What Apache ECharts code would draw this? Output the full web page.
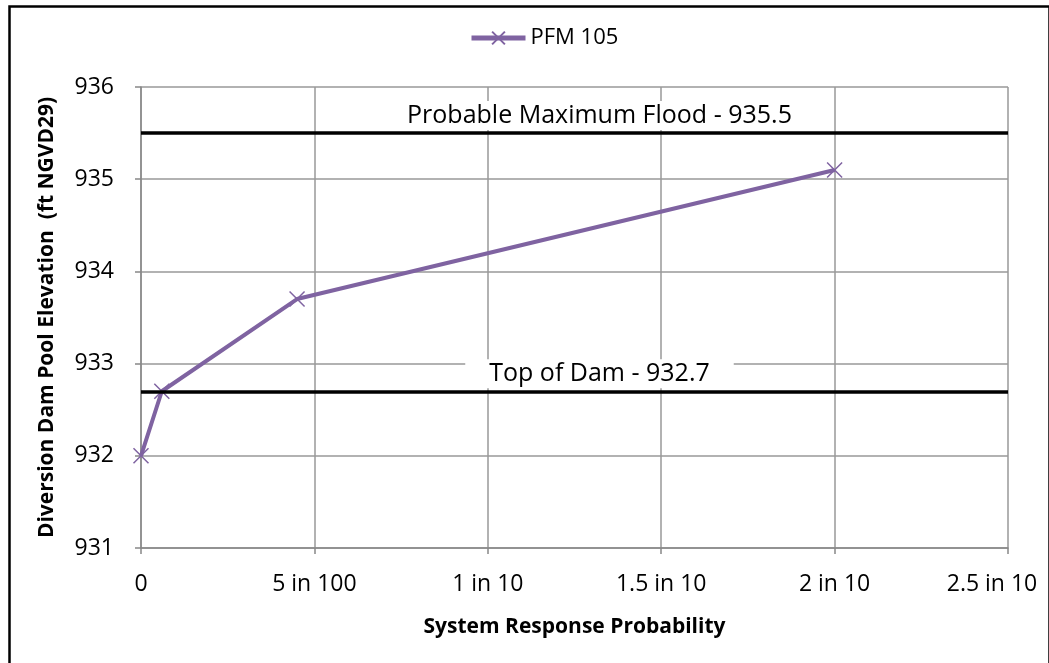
<!DOCTYPE html>
<html>
<head>
<meta charset="utf-8">
<script src="https://cdn.jsdelivr.net/npm/echarts@6/dist/echarts.min.js"></script>
<style>html,body{margin:0;padding:0;background:#fff}#c{width:1049px;height:663px}</style>
</head>
<body>
<div id="c"></div>
<script>
const seriesName = 'PFM 105';
const xValues = [0, 0.006, 0.045, 0.2];
const yValues = [932, 932.7, 933.7, 935.1];
const xTickValues = [0, 0.05, 0.1, 0.15, 0.2, 0.25];
const xTickLabels = ['0', '5 in 100', '1 in 10', '1.5 in 10', '2 in 10', '2.5 in 10'];
const refLevels = [935.5, 932.7];
const refLabels = ['Probable Maximum Flood - 935.5', 'Top of Dam - 932.7'];

const purple = '#7F63A1';
const font = 'Open Sans';
const xSym = 'path://M0,0 L10,10 M10,0 L0,10';

const chart = echarts.init(document.getElementById('c'), null, {renderer: 'canvas'});
chart.setOption({
  backgroundColor: '#fff',
  animation: false,
  textStyle: {fontFamily: font},
  graphic: [{
    type: 'rect', left: 7, top: 4, z: 100, silent: true,
    shape: {x: 0, y: 0, width: 1040, height: 700},
    style: {fill: 'none', stroke: '#000', lineWidth: 2.5}
  }],
  legend: {
    top: 22, left: 464,
    itemWidth: 54, itemHeight: 16, itemGap: 6,
    textStyle: {fontSize: 22, color: '#000', fontFamily: font},
    data: [{name: seriesName, lineStyle: {width: 5, color: purple}}]
  },
  grid: {left: 141, top: 87, right: 41, bottom: 115, containLabel: false},
  xAxis: {
    type: 'value', min: 0, max: 0.25, interval: 0.05,
    name: 'System Response Probability', nameLocation: 'middle', nameGap: 69,
    nameTextStyle: {fontSize: 21, fontWeight: 'bold', color: '#000', fontFamily: font},
    axisLine: {show: true, lineStyle: {color: '#888', width: 1.5}},
    axisTick: {show: true, length: 6, lineStyle: {color: '#888', width: 1.5}},
    axisLabel: {fontSize: 23, color: '#000', margin: 25,
      formatter: v => {
        const i = xTickValues.findIndex(t => Math.abs(t - v) < 1e-9);
        if (i < 0) return '';
        return i === xTickLabels.length - 1 ? '{last|' + xTickLabels[i] + '}' : xTickLabels[i];
      },
      rich: {last: {fontSize: 23, color: '#000', fontFamily: font, padding: [0, 32, 0, 0]}}
    },
    splitLine: {show: true, lineStyle: {color: '#999', width: 1.5}}
  },
  yAxis: {
    type: 'value', min: 931, max: 936, interval: 1,
    name: 'Diversion Dam Pool Elevation  (ft NGVD29)', nameLocation: 'middle', nameGap: 83,
    nameTextStyle: {fontSize: 21, fontWeight: 'bold', color: '#000', fontFamily: font},
    axisLine: {show: true, lineStyle: {color: '#888', width: 1.5}},
    axisTick: {show: true, length: 6, lineStyle: {color: '#888', width: 1.5}},
    axisLabel: {fontSize: 23, color: '#000', margin: 27},
    splitLine: {show: true, lineStyle: {color: '#999', width: 1.5}}
  },
  series: [{
    name: seriesName, type: 'line',
    data: xValues.map((x, i) => [x, yValues[i]]),
    lineStyle: {color: purple, width: 4},
    itemStyle: {color: purple, borderColor: purple, borderWidth: 1.5},
    symbol: xSym, symbolSize: 15, showSymbol: true,
    markLine: {
      silent: true, symbol: 'none',
      lineStyle: {color: '#000', width: 3.5, type: 'solid'},
      data: refLevels.map((v, i) => ({
        yAxis: v,
        label: {
          show: true, formatter: refLabels[i], position: 'insideMiddleTop',
          fontSize: 25, color: '#000', fontFamily: font,
          backgroundColor: '#fff', padding: [2, 24, 2, 24],
          offset: [25, 0], distance: 3
        }
      }))
    }
  }]
});
</script>
</body>
</html>
